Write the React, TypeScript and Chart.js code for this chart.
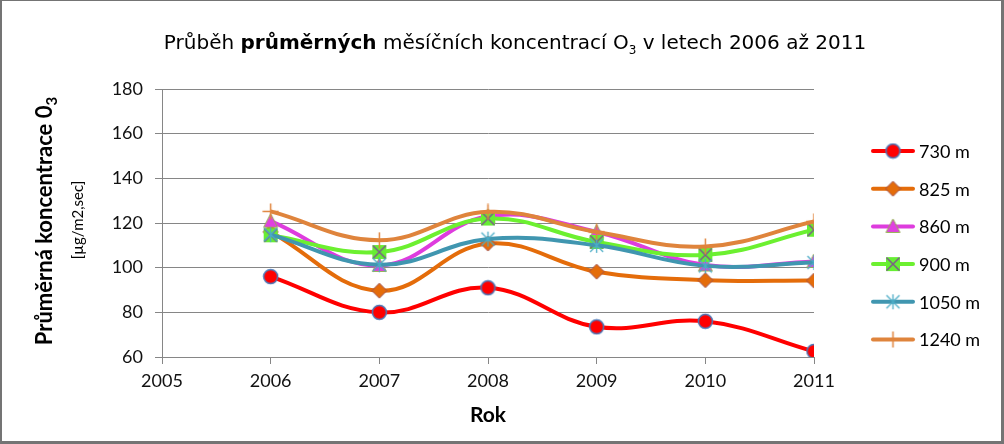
import React, { useEffect, useRef } from "react";
import { Chart, registerables } from "chart.js";

Chart.register(...registerables);

const years = [2006, 2007, 2008, 2009, 2010, 2011];
const seriesNames = ["730 m", "825 m", "860 m", "900 m", "1050 m", "1240 m"];
const s730 = [96, 80, 91, 73.5, 76, 62.5];
const s825 = [116, 89.7, 110.8, 98.2, 94.4, 94.2];
const s860 = [120.8, 101, 123, 116, 101.2, 102.8];
const s900 = [114.5, 107, 122, 111.5, 105.7, 117];
const s1050 = [114.8, 101.3, 112.8, 110, 100.8, 102.3];
const s1240 = [125.2, 112.3, 125, 116, 109.5, 120.7];
const xTicks = [2005, 2006, 2007, 2008, 2009, 2010, 2011];
const yTicks = [60, 80, 100, 120, 140, 160, 180];
const lineColors = ["#FF0000", "#E46C0A", "#DE3CDE", "#6CF030", "#4096B0", "#DF843C"];

function mk(size: number, draw: (c: CanvasRenderingContext2D, m: number) => void) {
  const cv = document.createElement("canvas");
  cv.width = size;
  cv.height = size;
  const ctx = cv.getContext("2d")!;
  draw(ctx, size / 2);
  return cv;
}

function makeMarkers() {
  const circle = mk(17, (c, m) => {
    c.beginPath();
    c.arc(m, m, 7, 0, Math.PI * 2);
    c.fillStyle = "#FF0000";
    c.fill();
    c.lineWidth = 1.5;
    c.strokeStyle = "#4A78B8";
    c.stroke();
  });
  const diamond = mk(17, (c, m) => {
    c.beginPath();
    c.moveTo(m, m - 7.5);
    c.lineTo(m + 7.5, m);
    c.lineTo(m, m + 7.5);
    c.lineTo(m - 7.5, m);
    c.closePath();
    c.fillStyle = "#E46C0A";
    c.fill();
    c.lineWidth = 1;
    c.strokeStyle = "#A0504C";
    c.stroke();
  });
  const tri = mk(17, (c, m) => {
    c.beginPath();
    c.moveTo(m, m - 7.5);
    c.lineTo(m + 7, m + 6);
    c.lineTo(m - 7, m + 6);
    c.closePath();
    c.fillStyle = "#E040E0";
    c.fill();
    c.lineWidth = 1;
    c.strokeStyle = "#94B050";
    c.stroke();
  });
  const sqx = mk(16, (c, m) => {
    c.fillStyle = "#66EE33";
    c.fillRect(1, 1, 14, 14);
    c.strokeStyle = "#7A5E88";
    c.lineWidth = 1.5;
    c.beginPath();
    c.moveTo(1.5, 1.5);
    c.lineTo(14.5, 14.5);
    c.moveTo(14.5, 1.5);
    c.lineTo(1.5, 14.5);
    c.stroke();
  });
  const star = mk(17, (c, m) => {
    c.strokeStyle = "#4BACC6";
    c.lineWidth = 1.3;
    c.beginPath();
    c.moveTo(m, m - 7.5);
    c.lineTo(m, m + 7.5);
    c.moveTo(m - 6.5, m - 6.5);
    c.lineTo(m + 6.5, m + 6.5);
    c.moveTo(m + 6.5, m - 6.5);
    c.lineTo(m - 6.5, m + 6.5);
    c.stroke();
  });
  const plus = mk(17, (c, m) => {
    c.strokeStyle = "#E0843C";
    c.lineWidth = 1.5;
    c.beginPath();
    c.moveTo(m, m - 8);
    c.lineTo(m, m + 8);
    c.moveTo(m - 8, m);
    c.lineTo(m + 8, m);
    c.stroke();
  });
  return [circle, diamond, tri, sqx, star, plus];
}

const legendPlugin = {
  id: "sideLegend",
  afterDraw(chart: any) {
    const ctx = chart.ctx;
    const items = chart.data.datasets;
    ctx.save();
    items.forEach((ds: any, i: number) => {
      const y = 151 + i * 37.7;
      ctx.strokeStyle = ds.borderColor;
      ctx.lineWidth = 4;
      ctx.lineCap = "round";
      ctx.beginPath();
      ctx.moveTo(873, y);
      ctx.lineTo(913, y);
      ctx.stroke();
      const img = ds.pointStyle as HTMLCanvasElement;
      ctx.drawImage(img, 893 - img.width / 2, y - img.height / 2);
      ctx.fillStyle = "#000";
      ctx.font = "18px Lato";
      ctx.textBaseline = "middle";
      ctx.textAlign = "left";
      ctx.fillText(ds.label, 919, y + 1);
    });
    ctx.restore();
  },
};

export default function App() {
  const ref = useRef<HTMLCanvasElement | null>(null);
  useEffect(() => {
    if (!ref.current) return;
    const markers = makeMarkers();
    const all = [s730, s825, s860, s900, s1050, s1240];
    const n = all.length;
    const chart = new Chart(ref.current, {
      type: "line",
      data: {
        datasets: all.map((arr, i) => ({
          label: seriesNames[i],
          data: years.map((yr, j) => ({ x: yr, y: arr[j] })),
          borderColor: lineColors[i],
          backgroundColor: lineColors[i],
          borderWidth: 4,
          tension: 0.4,
          pointStyle: markers[i],
          pointRadius: 7,
          order: n - i,
          fill: false,
        })),
      },
      options: {
        responsive: false,
        animation: false,
        events: [],
        layout: { padding: { top: 89, right: 190, bottom: 0, left: 0 } },
        plugins: { legend: { display: false }, title: { display: false }, tooltip: { enabled: false } },
        scales: {
          x: {
            type: "linear",
            min: 2005,
            max: 2011,
            afterBuildTicks: (s: any) => {
              s.ticks = xTicks.map((v) => ({ value: v }));
            },
            afterFit: (s: any) => {
              s.height = 87;
            },
            grid: { drawOnChartArea: false, drawTicks: true, tickLength: 7, color: "#868686" },
            border: { display: true, color: "#868686", width: 1 },
            ticks: {
              callback: (v: any) => String(v),
              font: { family: "Lato", size: 18 },
              color: "#111",
              padding: 6,
              maxRotation: 0,
            },
          },
          y: {
            type: "linear",
            min: 60,
            max: 180,
            afterBuildTicks: (s: any) => {
              s.ticks = yTicks.map((v) => ({ value: v }));
            },
            afterFit: (s: any) => {
              s.width = 162;
            },
            grid: { color: "#868686", lineWidth: 1, tickLength: 7 },
            border: { display: true, color: "#868686", width: 1 },
            ticks: {
              callback: (v: any) => String(v),
              font: { family: "Lato", size: 18 },
              color: "#111",
              padding: 12,
            },
          },
        },
      },
      plugins: [legendPlugin],
    } as any);
    return () => chart.destroy();
  }, []);

  return (
    <div style={{ position: "absolute", left: 0, top: 0, width: 1004, height: 444, background: "#fff" }}>
      <canvas ref={ref} width={1004} height={444} style={{ position: "absolute", left: 0, top: 0, width: 1004, height: 444 }} />
      <div
        style={{
          position: "absolute",
          left: 115,
          width: 800,
          top: 29,
          textAlign: "center",
          fontFamily: "'DejaVu Sans'",
          fontSize: 20,
          lineHeight: "26px",
          color: "#000",
          whiteSpace: "nowrap",
        }}
      >
        Průběh <b>průměrných</b> měsíčních koncentrací O<sub style={{ fontSize: 12 }}>3</sub> v letech 2006 až 2011
      </div>
      <div
        style={{
          position: "absolute",
          left: 44 - 150,
          top: 221 - 14,
          width: 300,
          height: 28,
          lineHeight: "28px",
          textAlign: "center",
          transform: "rotate(-90deg)",
          fontFamily: "Lato",
          fontWeight: 700,
          fontSize: 22,
          color: "#000",
          whiteSpace: "nowrap",
        }}
      >
        Průměrná koncentrace 0<sub style={{ fontSize: 15 }}>3</sub>
      </div>
      <div
        style={{
          position: "absolute",
          left: 77 - 100,
          top: 220 - 10,
          width: 200,
          height: 20,
          lineHeight: "20px",
          textAlign: "center",
          transform: "rotate(-90deg)",
          fontFamily: "Lato",
          fontSize: 15,
          color: "#000",
          whiteSpace: "nowrap",
        }}
      >
        [µg/m2,sec]
      </div>
      <div
        style={{
          position: "absolute",
          left: 388,
          width: 200,
          top: 401,
          textAlign: "center",
          fontFamily: "Lato",
          fontWeight: 700,
          fontSize: 21,
          lineHeight: "26px",
          color: "#000",
        }}
      >
        Rok
      </div>
      <div
        style={{
          position: "absolute",
          left: 0,
          top: 0,
          width: 1004,
          height: 444,
          boxSizing: "border-box",
          borderStyle: "solid",
          borderColor: "#747474",
          borderWidth: "1px 3px 3px 2px",
          pointerEvents: "none",
        }}
      />
    </div>
  );
}
